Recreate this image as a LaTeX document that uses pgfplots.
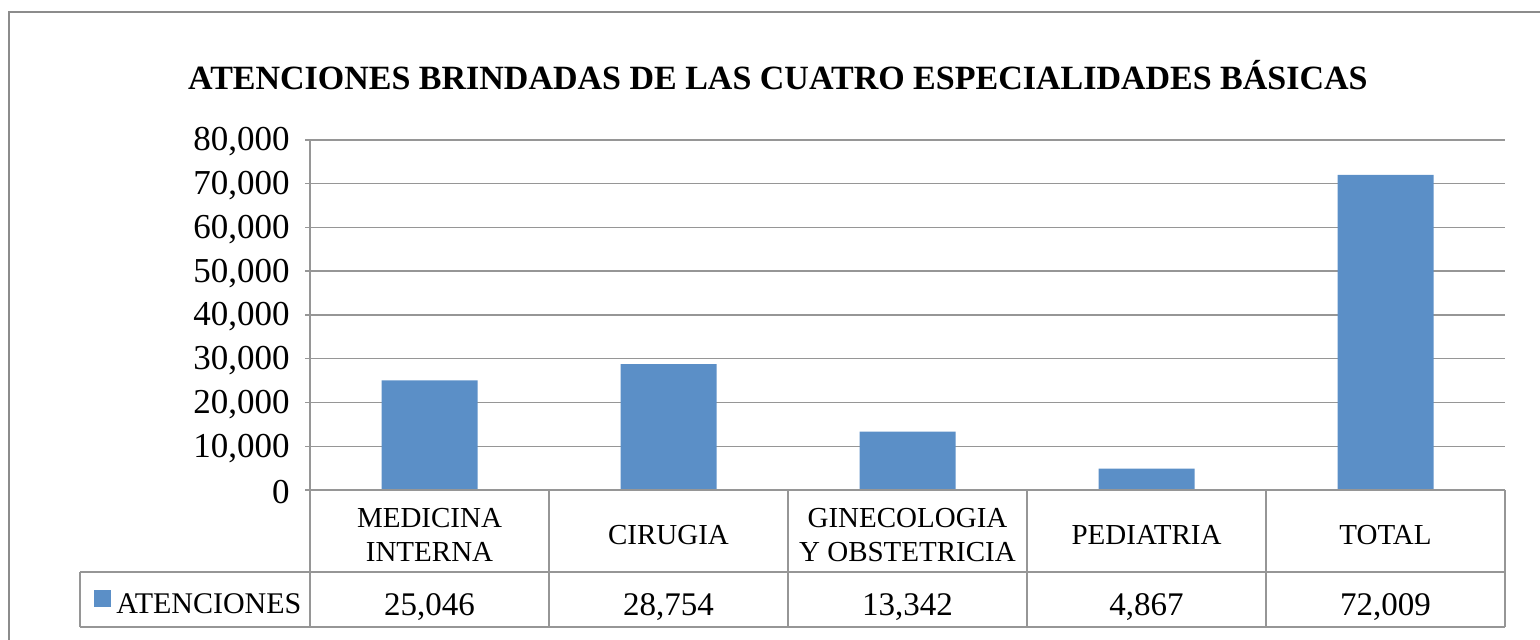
\documentclass[border=0pt]{standalone}
\usepackage{pgfplots}
\pgfplotsset{compat=1.18}
\usepackage{fontspec}
\setmainfont{Liberation Serif}
\definecolor{barblue}{RGB}{91,143,199}
\definecolor{gl}{RGB}{150,150,150}
\definecolor{fr}{RGB}{140,140,140}
\begin{document}
\begin{tikzpicture}
\begin{scope}[x=0.5pt,y=-0.5pt]
\useasboundingbox (0,0) rectangle (1540,640);
% outer frame
\draw[fr, line width=1pt] (9,640) -- (9,12) -- (1540,12);
% title
\node[anchor=base, font=\fontsize{17}{20}\selectfont\bfseries] at (778,90)
  {ATENCIONES BRINDADAS DE LAS CUATRO ESPECIALIDADES BÁSICAS};
\end{scope}
\begin{axis}[
  at={(155pt,-245pt)}, anchor=south west,
  width=597.5pt, height=175pt, scale only axis,
  xmin=-0.5, xmax=4.5, ymin=0, ymax=80000,
  clip=false,
  axis lines*=left, axis line style={draw=none},
  xtick={0,1,2,3,4},
  xticklabels={{MEDICINA\\INTERNA},{CIRUGIA},{GINECOLOGIA\\Y OBSTETRICIA},{PEDIATRIA},{TOTAL}},
  xtick style={draw=none},
  xticklabel style={align=center, anchor=center, yshift=-20pt, font=\fontsize{14.5}{17}\selectfont},
  ytick={0,10000,...,80000},
  ytick style={draw=gl, line width=0.75pt},
  tick align=outside, major tick length=2.5pt,
  yticklabel style={font=\fontsize{17.5}{19}\selectfont, inner sep=0pt, xshift=-7.5pt, yshift=-1pt},
  /pgf/number format/assume math mode=true,
  /pgf/number format/1000 sep={,},
  scaled y ticks=false,
  ymajorgrids, grid style={gl, line width=0.75pt},
]
\addplot[ybar, bar width=48pt, fill=barblue, draw=none] coordinates {
  (0,25046) (1,28754) (2,13342) (3,4867) (4,72009)};
\addplot[draw=none, mark=none, nodes near coords, point meta=explicit,
  every node near coord/.append style={anchor=base, inner sep=0pt, font=\fontsize{16.5}{18}\selectfont, /pgf/number format/1000 sep={,}}]
  coordinates {
  (0,-28571) [25046] (1,-28571) [28754] (2,-28571) [13342] (3,-28571) [4867] (4,-28571) [72009]};
\end{axis}
\begin{scope}[x=0.5pt,y=-0.5pt]
% axis lines and table
\draw[gl, line width=0.75pt] (310,140) -- (310,627);
\draw[gl, line width=0.75pt] (305,490) -- (1505,490);
\draw[gl, line width=0.75pt] (80,572) -- (1505,572);
\draw[gl, line width=0.75pt] (80,627) -- (1505,627);
\draw[gl, line width=0.75pt] (80,572) -- (80,627);
\foreach \xx in {549,788,1027,1266,1505}
  \draw[gl, line width=0.75pt] (\xx,490) -- (\xx,627);
% legend key
\fill[barblue] (94,590) rectangle (111,607);
\node[anchor=base west, inner sep=0pt, font=\fontsize{15}{18}\selectfont] at (116,613) {ATENCIONES};
\end{scope}
\end{tikzpicture}
\end{document}
